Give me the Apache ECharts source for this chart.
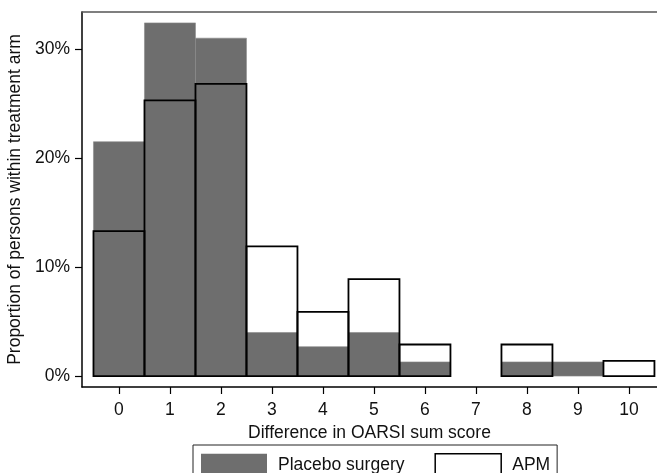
<!DOCTYPE html>
<html>
<head>
<meta charset="utf-8">
<script src="https://cdn.jsdelivr.net/npm/echarts@6/dist/echarts.min.js"></script>
<style>html,body{margin:0;padding:0;background:#fff}#c{width:657px;height:473px}</style>
</head>
<body>
<div id="c"></div>
<script>
// Data
const scores = [0, 1, 2, 3, 4, 5, 6, 7, 8, 9, 10];
const placeboPct = [21.5, 32.4, 31.0, 4.0, 2.7, 4.0, 1.3, 0, 1.3, 1.3, 0];
const apmPct = [13.3, 25.3, 26.8, 11.9, 5.9, 8.9, 2.9, 0, 2.9, 0, 1.4];
const yTicks = [0, 10, 20, 30];
const xTicks = [0, 1, 2, 3, 4, 5, 6, 7, 8, 9, 10];

const FONT = '"Liberation Sans", Arial, sans-serif';
const TXT = '#111';
const FS = 17.5;

function renderBar(params, api) {
  const x = api.value(0), v = api.value(1);
  if (!v) return null;
  const p1 = api.coord([x - 0.5, v]);
  const p2 = api.coord([x + 0.5, 0]);
  return {
    type: 'rect',
    shape: { x: p1[0], y: p1[1], width: p2[0] - p1[0], height: p2[1] - p1[1] },
    style: api.style()
  };
}

const chart = echarts.init(document.getElementById('c'), null, { renderer: 'canvas' });
chart.setOption({
  animation: false,
  backgroundColor: '#fff',
  grid: { left: 82, right: 0, top: 12, bottom: 86, containLabel: false, outerBoundsMode: 'none' },
  xAxis: [{
    type: 'value', min: -0.725, max: 10.55,
    name: 'Difference in OARSI sum score', nameLocation: 'middle', nameGap: 31,
    nameTextStyle: { fontFamily: FONT, fontSize: FS, color: TXT },
    axisLine: { show: true, onZero: false, lineStyle: { color: '#000', width: 1.5 } },
    axisTick: { show: true, length: 7, lineStyle: { color: '#000', width: 1.2 }, customValues: xTicks },
    axisLabel: { customValues: xTicks, fontFamily: FONT, fontSize: FS, color: TXT, margin: 14 },
    splitLine: { show: false }
  }, {
    type: 'value', position: 'top', min: -0.725, max: 10.55,
    axisLine: { show: true, onZero: false, lineStyle: { color: '#555', width: 1.5 } },
    axisTick: { show: false }, axisLabel: { show: false }, splitLine: { show: false }
  }],
  yAxis: {
    type: 'value', min: -1.0, max: 33.4,
    name: 'Proportion of persons within treatment arm', nameLocation: 'middle', nameGap: 49,
    nameTextStyle: { fontFamily: FONT, fontSize: FS, color: TXT },
    axisLine: { show: true, onZero: false, lineStyle: { color: '#000', width: 1.5 } },
    axisTick: { show: true, length: 7, lineStyle: { color: '#000', width: 1.2 }, customValues: yTicks },
    axisLabel: { customValues: yTicks, formatter: v => v + '%', fontFamily: FONT, fontSize: FS, color: TXT, margin: 12 },
    splitLine: { show: false }
  },
  legend: {
    left: 193, top: 445,
    padding: [8, 7, 8, 8],
    borderColor: '#222', borderWidth: 1,
    itemWidth: 66, itemHeight: 22, itemGap: 30,
    icon: 'rect',
    textStyle: { fontFamily: FONT, fontSize: FS, color: TXT, padding: [0, 0, 0, 6] },
    data: [
      { name: 'Placebo surgery', itemStyle: { color: '#6e6e6e', borderWidth: 0 } },
      { name: 'APM', itemStyle: { color: '#fff', borderColor: '#000', borderWidth: 1.5 } }
    ]
  },
  series: [{
    name: 'Placebo surgery', type: 'custom', renderItem: renderBar,
    itemStyle: { color: '#6e6e6e', borderColor: '#8a8a8a', borderWidth: 0.6 },
    data: scores.map((s, i) => [s, placeboPct[i]]), z: 2
  }, {
    name: 'APM', type: 'custom', renderItem: renderBar,
    itemStyle: { color: 'rgba(0,0,0,0)', borderColor: '#000', borderWidth: 1.8 },
    data: scores.map((s, i) => [s, apmPct[i]]), z: 3
  }]
});
</script>
</body>
</html>
